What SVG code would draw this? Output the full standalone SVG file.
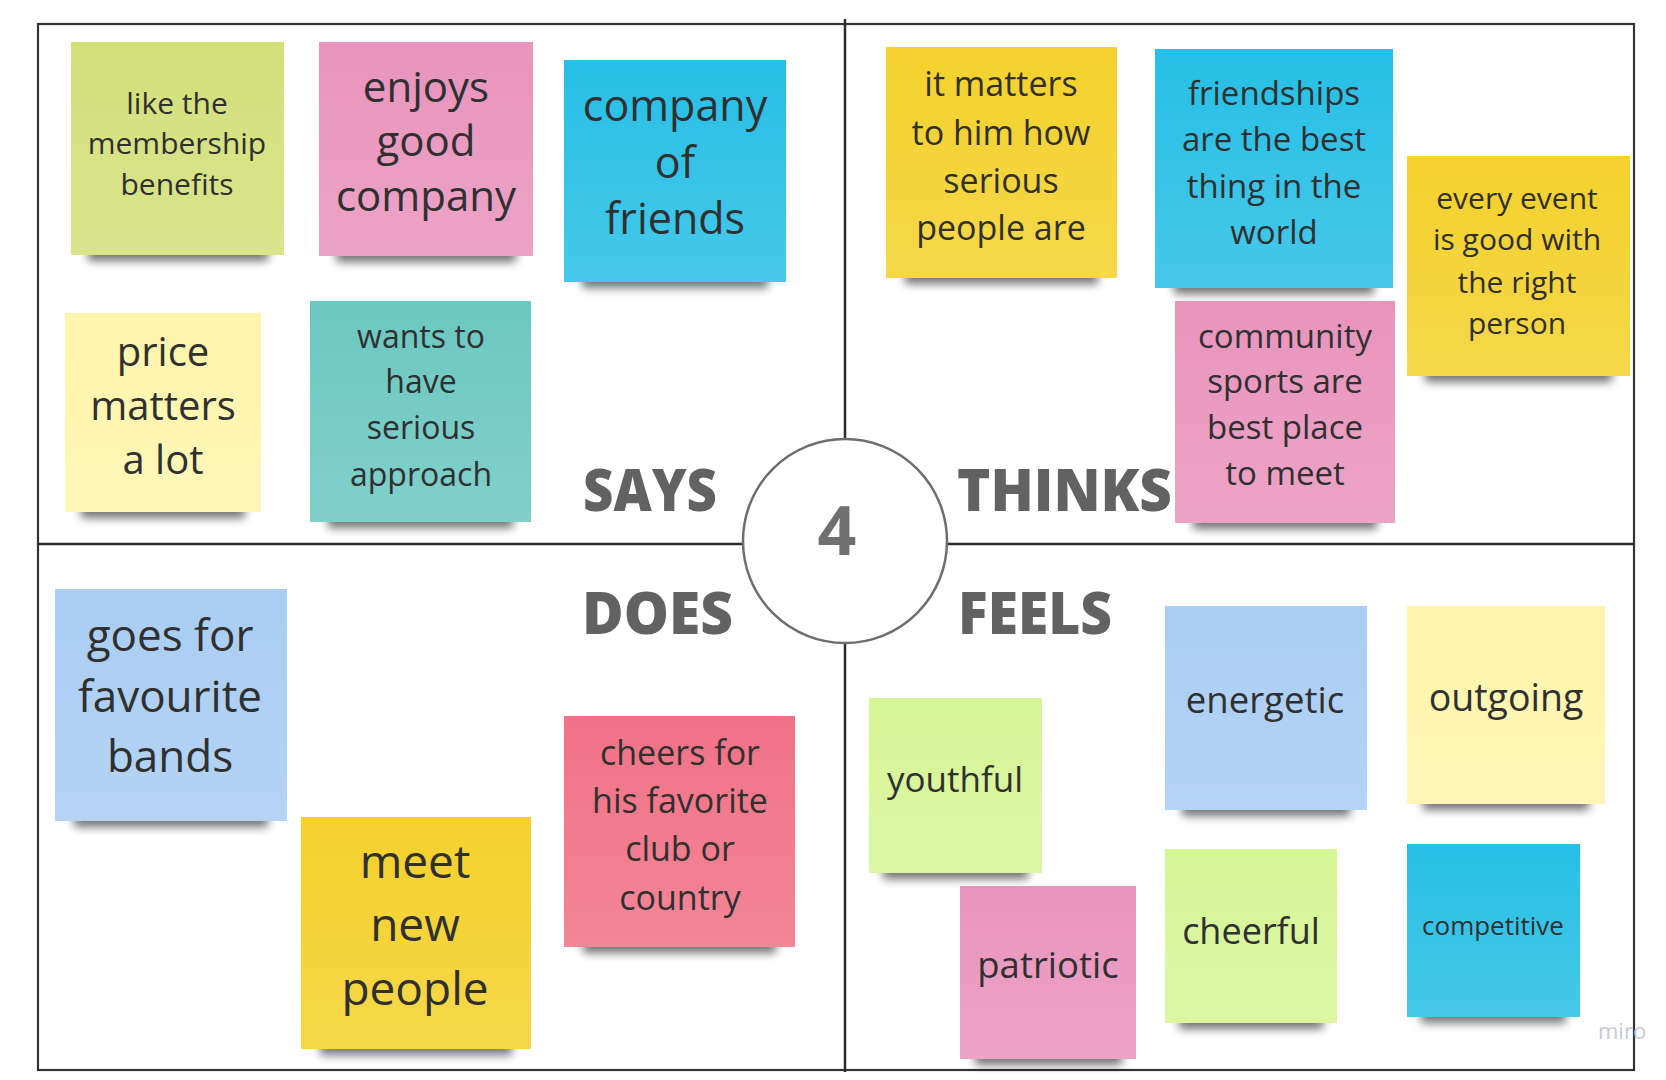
<svg xmlns="http://www.w3.org/2000/svg" width="1666" height="1080" viewBox="0 0 1666 1080">
<defs>
<style>
.frame{fill:none;stroke:#333;stroke-width:2.2}
.axis{stroke:#2b2b2b;stroke-width:2.5}
.sh{fill:#000;opacity:.55;filter:url(#blur)}
.gl{fill:url(#gloss)}
.t{font-family:"Open Sans","Liberation Sans",sans-serif;fill:#303030;text-anchor:middle;transform:translateY(2px)}
.lab{font-family:"Open Sans","Liberation Sans",sans-serif;font-weight:800;font-size:59px;fill:#626262}
</style>
<filter id="blur" x="-20%" y="-100%" width="140%" height="300%"><feGaussianBlur stdDeviation="5"/></filter>
<linearGradient id="gloss" x1="0" y1="0" x2="0" y2="1">
<stop offset="0" stop-color="#fff" stop-opacity="0"/>
<stop offset="1" stop-color="#fff" stop-opacity="0.14"/>
</linearGradient>
</defs>
<rect width="1666" height="1080" fill="#fff"/>

<g id="frame">
<rect class="frame" x="38" y="24" width="1596" height="1046"/>
</g>

<g id="connectors">
<line class="axis" x1="845" y1="19" x2="845" y2="1072"/>
<line class="axis" x1="38" y1="544" x2="1634" y2="544"/>
</g>

<g id="center">
<circle cx="845" cy="541" r="102" fill="#fff" stroke="#6e6e6e" stroke-width="2.5"/>
<text x="837" y="555" font-family="Open Sans, Liberation Sans, sans-serif" font-weight="700" font-size="68" fill="#707070" text-anchor="middle">4</text>
</g>

<g id="labels">
<text id="lab-says" class="lab" x="583" y="511" textLength="134" lengthAdjust="spacingAndGlyphs">SAYS</text>
<text id="lab-thinks" class="lab" x="957" y="511" textLength="215" lengthAdjust="spacingAndGlyphs">THINKS</text>
<text id="lab-does" class="lab" x="582" y="634" textLength="151" lengthAdjust="spacingAndGlyphs">DOES</text>
<text id="lab-feels" class="lab" x="958" y="634" textLength="154" lengthAdjust="spacingAndGlyphs">FEELS</text>
</g>

<!-- SAYS -->
<g id="n-membership">
<rect class="sh" x="88" y="241" width="180" height="20"/>
<rect x="71" y="42" width="213" height="213" fill="#d3e07a"/>
<rect class="gl" x="71" y="42" width="213" height="213"/>
<text class="t" font-size="30"><tspan x="177" y="112">like the</tspan><tspan x="177" y="152">membership</tspan><tspan x="177" y="193">benefits</tspan></text>
</g>
<g id="n-enjoys">
<rect class="sh" x="336" y="242" width="180" height="20"/>
<rect x="319" y="42" width="214" height="214" fill="#e994bd"/>
<rect class="gl" x="319" y="42" width="214" height="214"/>
<text class="t" font-size="42"><tspan x="426" y="100">enjoys</tspan><tspan x="426" y="154">good</tspan><tspan x="426" y="209">company</tspan></text>
</g>
<g id="n-friends">
<rect class="sh" x="582" y="268" width="186" height="20"/>
<rect x="564" y="60" width="222" height="222" fill="#27bfe6"/>
<rect class="gl" x="564" y="60" width="222" height="222"/>
<text class="t" font-size="43"><tspan x="675" y="119">company</tspan><tspan x="675" y="176">of</tspan><tspan x="675" y="232">friends</tspan></text>
</g>
<g id="n-price">
<rect class="sh" x="81" y="498" width="164" height="20"/>
<rect x="65" y="313" width="196" height="199" fill="#fef5ab"/>
<rect class="gl" x="65" y="313" width="196" height="199"/>
<text class="t" font-size="40"><tspan x="163" y="364">price</tspan><tspan x="163" y="418">matters</tspan><tspan x="163" y="472">a lot</tspan></text>
</g>
<g id="n-serious">
<rect class="sh" x="328" y="508" width="185" height="20"/>
<rect x="310" y="301" width="221" height="221" fill="#6cc8c1"/>
<rect class="gl" x="310" y="301" width="221" height="221"/>
<text class="t" font-size="32"><tspan x="421" y="346">wants to</tspan><tspan x="421" y="391">have</tspan><tspan x="421" y="437">serious</tspan><tspan x="421" y="484">approach</tspan></text>
</g>

<!-- THINKS -->
<g id="n-matters">
<rect class="sh" x="905" y="264" width="193" height="20"/>
<rect x="886" y="47" width="231" height="231" fill="#f4d12c"/>
<rect class="gl" x="886" y="47" width="231" height="231"/>
<text class="t" font-size="34"><tspan x="1001" y="94">it matters</tspan><tspan x="1001" y="143">to him how</tspan><tspan x="1001" y="191">serious</tspan><tspan x="1001" y="238">people are</tspan></text>
</g>
<g id="n-friendships">
<rect class="sh" x="1174" y="274" width="200" height="20"/>
<rect x="1155" y="49" width="238" height="239" fill="#27bfe6"/>
<rect class="gl" x="1155" y="49" width="238" height="239"/>
<text class="t" font-size="33"><tspan x="1274" y="103">friendships</tspan><tspan x="1274" y="149">are the best</tspan><tspan x="1274" y="196">thing in the</tspan><tspan x="1274" y="242">world</tspan></text>
</g>
<g id="n-event">
<rect class="sh" x="1425" y="362" width="187" height="20"/>
<rect x="1407" y="156" width="223" height="220" fill="#f4d12c"/>
<rect class="gl" x="1407" y="156" width="223" height="220"/>
<text class="t" font-size="30"><tspan x="1517" y="207">every event</tspan><tspan x="1517" y="248">is good with</tspan><tspan x="1517" y="291">the right</tspan><tspan x="1517" y="332">person</tspan></text>
</g>
<g id="n-community">
<rect class="sh" x="1193" y="509" width="184" height="20"/>
<rect x="1175" y="301" width="220" height="222" fill="#e994bd"/>
<rect class="gl" x="1175" y="301" width="220" height="222"/>
<text class="t" font-size="33"><tspan x="1285" y="346">community</tspan><tspan x="1285" y="391">sports are</tspan><tspan x="1285" y="437">best place</tspan><tspan x="1285" y="483">to meet</tspan></text>
</g>

<!-- DOES -->
<g id="n-bands">
<rect class="sh" x="74" y="807" width="194" height="20"/>
<rect x="55" y="589" width="232" height="232" fill="#a9cdf3"/>
<rect class="gl" x="55" y="589" width="232" height="232"/>
<text class="t" font-size="44"><tspan x="170" y="649">goes for</tspan><tspan x="170" y="710">favourite</tspan><tspan x="170" y="770">bands</tspan></text>
</g>
<g id="n-meet">
<rect class="sh" x="320" y="1035" width="192" height="20"/>
<rect x="301" y="817" width="230" height="232" fill="#f4d12c"/>
<rect class="gl" x="301" y="817" width="230" height="232"/>
<text class="t" font-size="46"><tspan x="415" y="876">meet</tspan><tspan x="415" y="939">new</tspan><tspan x="415" y="1003">people</tspan></text>
</g>
<g id="n-cheers">
<rect class="sh" x="583" y="933" width="193" height="20"/>
<rect x="564" y="716" width="231" height="231" fill="#f17286"/>
<rect class="gl" x="564" y="716" width="231" height="231"/>
<text class="t" font-size="34"><tspan x="680" y="763">cheers for</tspan><tspan x="680" y="811">his favorite</tspan><tspan x="680" y="859">club or</tspan><tspan x="680" y="908">country</tspan></text>
</g>

<!-- FEELS -->
<g id="n-youthful">
<rect class="sh" x="883" y="859" width="145" height="20"/>
<rect x="869" y="698" width="173" height="175" fill="#d6f595"/>
<rect class="gl" x="869" y="698" width="173" height="175"/>
<text class="t" font-size="35"><tspan x="955" y="790">youthful</tspan></text>
</g>
<g id="n-energetic">
<rect class="sh" x="1182" y="796" width="168" height="20"/>
<rect x="1165" y="606" width="202" height="204" fill="#a9cdf3"/>
<rect class="gl" x="1165" y="606" width="202" height="204"/>
<text class="t" font-size="36.5"><tspan x="1265" y="711">energetic</tspan></text>
</g>
<g id="n-outgoing">
<rect class="sh" x="1423" y="790" width="166" height="20"/>
<rect x="1407" y="606" width="198" height="198" fill="#fef5ab"/>
<rect class="gl" x="1407" y="606" width="198" height="198"/>
<text class="t" font-size="37.5"><tspan x="1506" y="709">outgoing</tspan></text>
</g>
<g id="n-patriotic">
<rect class="sh" x="975" y="1045" width="147" height="20"/>
<rect x="960" y="886" width="176" height="173" fill="#e994bd"/>
<rect class="gl" x="960" y="886" width="176" height="173"/>
<text class="t" font-size="36.5"><tspan x="1048" y="976">patriotic</tspan></text>
</g>
<g id="n-cheerful">
<rect class="sh" x="1179" y="1009" width="144" height="20"/>
<rect x="1165" y="849" width="172" height="174" fill="#d6f595"/>
<rect class="gl" x="1165" y="849" width="172" height="174"/>
<text class="t" font-size="36"><tspan x="1251" y="942">cheerful</tspan></text>
</g>
<g id="n-competitive">
<rect class="sh" x="1421" y="1003" width="145" height="20"/>
<rect x="1407" y="844" width="173" height="173" fill="#27bfe6"/>
<rect class="gl" x="1407" y="844" width="173" height="173"/>
<text class="t" font-size="26"><tspan x="1493" y="933">competitive</tspan></text>
</g>

<text id="watermark" x="1598" y="1039" font-family="Open Sans, Liberation Sans, sans-serif" font-size="22" fill="#c9c9d2">miro</text>
</svg>
